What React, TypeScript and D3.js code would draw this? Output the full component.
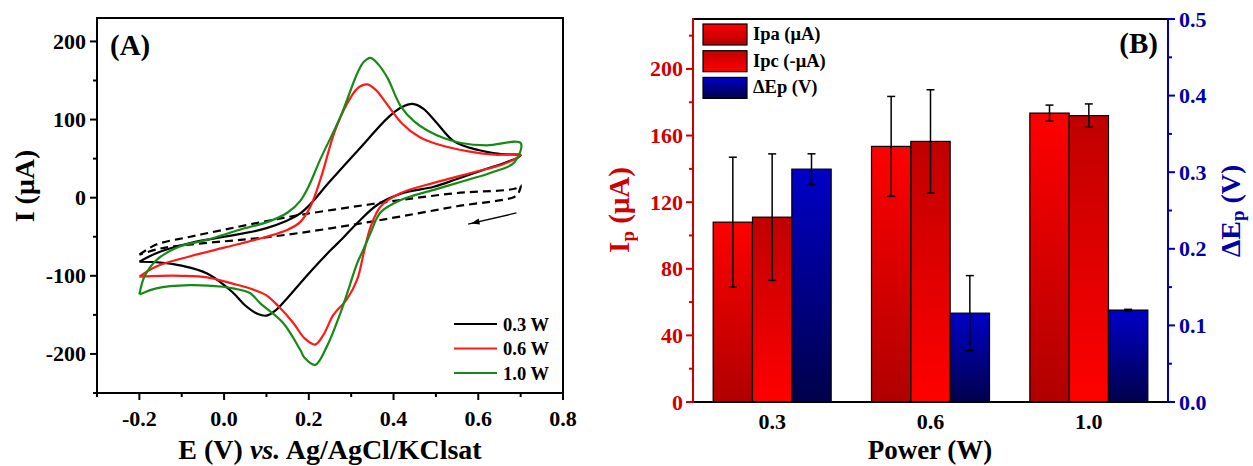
import React from 'react';
import * as d3 from 'd3';

const W = 1253;
const H = 466;
const FONT = '"Liberation Serif","Times New Roman",serif';

// ---------- Panel A data: cyclic voltammograms (E in V, I in µA) ----------
const cv03: [number, number][] = [
  [-0.2, -82], [-0.16, -71], [-0.08, -58], [0.0, -50], [0.1, -39], [0.18, -20], [0.25, 21],
  [0.32, 63], [0.39, 104], [0.42, 116], [0.445, 120], [0.47, 114], [0.5, 97], [0.543, 72],
  [0.6, 61], [0.65, 56], [0.7, 54],
  [0.66, 44], [0.62, 37], [0.55, 24], [0.495, 14], [0.417, 5], [0.362, -9], [0.315, -32],
  [0.28, -52], [0.25, -68], [0.2, -97], [0.15, -128], [0.12, -145], [0.1, -151], [0.08, -149],
  [0.05, -138], [0.02, -121], [-0.04, -97], [-0.1, -87], [-0.15, -83], [-0.2, -82],
];
const cv06: [number, number][] = [
  [-0.2, -101], [-0.16, -88], [-0.08, -75], [0.0, -64], [0.1, -50], [0.15, -41], [0.18, -31],
  [0.205, -10], [0.23, 28], [0.26, 83], [0.29, 120], [0.315, 140], [0.338, 145], [0.36, 137],
  [0.38, 123], [0.42, 95], [0.46, 78], [0.5, 69], [0.58, 59], [0.64, 55], [0.7, 55],
  [0.66, 43], [0.614, 36], [0.55, 27], [0.495, 19], [0.417, 6], [0.37, -11], [0.346, -37],
  [0.33, -70], [0.314, -105], [0.29, -130], [0.258, -150], [0.235, -175], [0.215, -188],
  [0.19, -180], [0.163, -160], [0.13, -140], [0.1, -125], [0.06, -116], [0.02, -110],
  [-0.04, -102], [-0.1, -100], [-0.15, -100], [-0.2, -101],
];
const cv10: [number, number][] = [
  [-0.2, -124], [-0.188, -101], [-0.16, -80], [-0.112, -64], [-0.041, -54], [0.037, -41],
  [0.108, -30], [0.15, -19], [0.18, -4], [0.2, 15], [0.227, 49], [0.275, 104], [0.315, 160],
  [0.33, 174], [0.346, 179], [0.365, 170], [0.386, 153], [0.417, 117], [0.45, 97], [0.48, 86],
  [0.52, 76], [0.559, 70], [0.62, 67], [0.7, 70],
  [0.685, 45], [0.63, 32], [0.576, 23], [0.495, 10], [0.417, -3], [0.369, -19], [0.346, -45],
  [0.33, -65], [0.314, -84], [0.295, -115], [0.275, -147], [0.243, -190], [0.215, -214],
  [0.19, -205], [0.18, -195], [0.139, -160], [0.085, -135], [0.061, -122], [0.021, -116],
  [-0.003, -114], [-0.081, -112], [-0.16, -116], [-0.2, -124],
];
const blank: [number, number][] = [
  [-0.2, -73], [-0.16, -60], [-0.08, -50], [0.0, -41], [0.09, -31], [0.18, -22], [0.3, -12],
  [0.417, -3], [0.55, 6], [0.69, 12], [0.7, 16],
  [0.695, 6], [0.685, 1], [0.55, -11], [0.417, -24], [0.3, -35], [0.18, -45], [0.077, -52],
  [-0.003, -56], [-0.081, -60], [-0.15, -65], [-0.2, -73],
];
const arrowPts: [number, number][] = [[0.69, -19.5], [0.583, -33]];

const cvLabels = ['0.3 W', '0.6 W', '1.0 W'];
const cvColors = ['#000000', '#ff1a1a', '#168a16'];
const cvData = [cv03, cv06, cv10];

const xTicksA = [-0.2, 0, 0.2, 0.4, 0.6, 0.8];
const xMinorA = [-0.3, -0.1, 0.1, 0.3, 0.5, 0.7];
const yTicksA = [-200, -100, 0, 100, 200];
const yMinorA = [-250, -150, -50, 50, 150];

// ---------- Panel B data ----------
const powers = ['0.3', '0.6', '1.0'];
const ipa = [108, 153.5, 173.5];
const ipaErr = [39, 30, 4.8];
const ipc = [111, 156.5, 172];
const ipcErr = [38, 31, 7];
const dEp = [0.304, 0.116, 0.12];
const dEpErr = [0.02, 0.049, 0.001];
const yTicksBL = [0, 40, 80, 120, 160, 200];
const yMinorBL = [20, 60, 100, 140, 180, 220];
const yTicksBR = [0, 0.1, 0.2, 0.3, 0.4, 0.5];
const yMinorBR = [0.05, 0.15, 0.25, 0.35, 0.45];

const RED_AX = '#d00000';
const BLUE_AX = '#0000a8';

function PanelA() {
  const x = d3.scaleLinear([-0.3, 0.8], [97, 563]);
  const y = d3.scaleLinear([-250, 230], [393, 18]);
  const line = d3
    .line<[number, number]>()
    .x((d) => x(d[0]))
    .y((d) => y(d[1]))
    .curve(d3.curveCatmullRom.alpha(0.5));
  const [x0, x1] = x.range();
  const [yb, yt] = y.range();
  const ax1 = x(arrowPts[0][0]), ay1 = y(arrowPts[0][1]);
  const ax2 = x(arrowPts[1][0]), ay2 = y(arrowPts[1][1]);
  const ang = Math.atan2(ay2 - ay1, ax2 - ax1);
  const ah = 9;
  const headP = [
    [ax2, ay2],
    [ax2 - ah * Math.cos(ang - 0.35), ay2 - ah * Math.sin(ang - 0.35)],
    [ax2 - ah * Math.cos(ang + 0.35), ay2 - ah * Math.sin(ang + 0.35)],
  ];
  return (
    <g>
      <path d={line(blank) || ''} fill="none" stroke="#000" strokeWidth={2.2} strokeDasharray="8,5" />
      {cvData.map((d, i) => (
        <path key={i} d={line(d) || ''} fill="none" stroke={cvColors[i]} strokeWidth={2.2} />
      ))}
      <line x1={ax1} y1={ay1} x2={ax2 + 3 * Math.cos(ang)} y2={ay2 + 3 * Math.sin(ang)} stroke="#000" strokeWidth={1.4} />
      <polygon points={headP.map((p) => p.join(',')).join(' ')} fill="#000" />
      <rect x={x0} y={yt} width={x1 - x0} height={yb - yt} fill="none" stroke="#000" strokeWidth={2} />
      {xTicksA.map((t) => (
        <g key={'xt' + t}>
          <line x1={x(t)} x2={x(t)} y1={yb} y2={yb + 7} stroke="#000" strokeWidth={2} />
          <text x={x(t)} y={yb + 33} textAnchor="middle" fontSize={22} fontWeight="bold">
            {t.toFixed(1)}
          </text>
        </g>
      ))}
      {xMinorA.map((t) => (
        <line key={'xm' + t} x1={x(t)} x2={x(t)} y1={yb} y2={yb + 4} stroke="#000" strokeWidth={2} />
      ))}
      {yTicksA.map((t) => (
        <g key={'yt' + t}>
          <line x1={x0 - 7} x2={x0} y1={y(t)} y2={y(t)} stroke="#000" strokeWidth={2} />
          <text x={x0 - 11} y={y(t) + 7.5} textAnchor="end" fontSize={22} fontWeight="bold">
            {t}
          </text>
        </g>
      ))}
      {yMinorA.map((t) => (
        <line key={'ym' + t} x1={x0 - 4} x2={x0} y1={y(t)} y2={y(t)} stroke="#000" strokeWidth={2} />
      ))}
      <text x={110} y={55} fontSize={29} fontWeight="bold">(A)</text>
      <text transform="translate(34,186) rotate(-90)" textAnchor="middle" fontSize={28} fontWeight="bold">
        I (μA)
      </text>
      <text x={330} y={459} textAnchor="middle" fontSize={28} fontWeight="bold">
        E (V) <tspan fontStyle="italic">vs.</tspan> Ag/AgCl/KClsat
      </text>
      {cvLabels.map((l, i) => {
        const ly = 324 + i * 24.5;
        return (
          <g key={l}>
            <line x1={454} x2={497} y1={ly} y2={ly} stroke={cvColors[i]} strokeWidth={2.2} />
            <text x={503} y={ly + 6.5} fontSize={18.5} fontWeight="bold">{l}</text>
          </g>
        );
      })}
    </g>
  );
}

function PanelB() {
  const yL = d3.scaleLinear([0, 230], [402, 19]);
  const yR = d3.scaleLinear([0, 0.5], [402, 19]);
  const xB = d3.scaleBand(powers, [693, 1168]).padding(0);
  const series = ['ipa', 'ipc', 'dep'];
  const inner = d3.scaleBand(series, [0, 118]).padding(0);
  const [xl, xr] = xB.range();
  const yb = 402, yt = 19;
  const fills = ['url(#gIpa)', 'url(#gIpc)', 'url(#gDep)'];
  const bars: { x: number; w: number; top: number; lo: number; hi: number; fill: string; key: string }[] = [];
  powers.forEach((p, i) => {
    const off = (xB(p) as number) + xB.bandwidth() / 2 - 59;
    const vals = [
      { v: ipa[i], e: ipaErr[i], s: yL },
      { v: ipc[i], e: ipcErr[i], s: yL },
      { v: dEp[i], e: dEpErr[i], s: yR },
    ];
    vals.forEach((o, j) => {
      bars.push({
        key: p + series[j],
        x: off + (inner(series[j]) as number),
        w: inner.bandwidth(),
        top: o.s(o.v),
        lo: o.s(o.v - o.e),
        hi: o.s(o.v + o.e),
        fill: fills[j],
      });
    });
  });
  const legend = [
    { label: 'Ipa (μA)', fill: fills[0] },
    { label: 'Ipc (-μA)', fill: fills[1] },
    { label: 'ΔEp (V)', fill: fills[2] },
  ];
  return (
    <g>
      <defs>
        <linearGradient id="gIpa" x1="0" y1="0" x2="0" y2="1">
          <stop offset="0" stopColor="#ff0000" />
          <stop offset="1" stopColor="#b00000" />
        </linearGradient>
        <linearGradient id="gIpc" x1="0" y1="0" x2="0" y2="1">
          <stop offset="0" stopColor="#c00000" />
          <stop offset="1" stopColor="#ff0000" />
        </linearGradient>
        <linearGradient id="gDep" x1="0" y1="0" x2="0" y2="1">
          <stop offset="0" stopColor="#0000c8" />
          <stop offset="1" stopColor="#00004a" />
        </linearGradient>
      </defs>
      {bars.map((b) => (
        <rect key={b.key} x={b.x} y={b.top} width={b.w} height={yb - b.top} fill={b.fill} stroke="#000" strokeWidth={1.2} />
      ))}
      {bars.map((b) => {
        const cx = b.x + b.w / 2;
        return (
          <g key={'e' + b.key} stroke="#000" strokeWidth={1.5}>
            <line x1={cx} x2={cx} y1={b.lo} y2={b.hi} />
            <line x1={cx - 4} x2={cx + 4} y1={b.lo} y2={b.lo} />
            <line x1={cx - 4} x2={cx + 4} y1={b.hi} y2={b.hi} />
          </g>
        );
      })}
      <line x1={xl} x2={xr} y1={yt} y2={yt} stroke="#000" strokeWidth={2} />
      <line x1={xl} x2={xr} y1={yb} y2={yb} stroke="#000" strokeWidth={2} />
      <line x1={xl} x2={xl} y1={yt - 1} y2={yb + 1} stroke={RED_AX} strokeWidth={2} />
      <line x1={xr} x2={xr} y1={yt - 1} y2={yb + 1} stroke={BLUE_AX} strokeWidth={2} />
      {yTicksBL.map((t) => (
        <g key={'l' + t}>
          <line x1={xl - 7} x2={xl} y1={yL(t)} y2={yL(t)} stroke={RED_AX} strokeWidth={2} />
          <text x={xl - 10} y={yL(t) + 7.5} textAnchor="end" fontSize={22} fontWeight="bold" fill={RED_AX}>
            {t}
          </text>
        </g>
      ))}
      {yMinorBL.map((t) => (
        <line key={'lm' + t} x1={xl - 4} x2={xl} y1={yL(t)} y2={yL(t)} stroke={RED_AX} strokeWidth={2} />
      ))}
      {yTicksBR.map((t) => (
        <g key={'r' + t}>
          <line x1={xr} x2={xr + 7} y1={yR(t)} y2={yR(t)} stroke={BLUE_AX} strokeWidth={2} />
          <text x={xr + 11} y={yR(t) + 7.5} fontSize={22} fontWeight="bold" fill={BLUE_AX}>
            {t.toFixed(1)}
          </text>
        </g>
      ))}
      {yMinorBR.map((t) => (
        <line key={'rm' + t} x1={xr} x2={xr + 4} y1={yR(t)} y2={yR(t)} stroke={BLUE_AX} strokeWidth={2} />
      ))}
      {powers.map((p) => (
        <text key={'xb' + p} x={(xB(p) as number) + xB.bandwidth() / 2} y={429} textAnchor="middle" fontSize={22} fontWeight="bold">
          {p}
        </text>
      ))}
      <text x={930} y={459} textAnchor="middle" fontSize={27} fontWeight="bold">Power (W)</text>
      <text transform="translate(629,210) rotate(-90)" textAnchor="middle" fontSize={29} fontWeight="bold" fill={RED_AX}>
        I<tspan fontSize={19} dy={5}>p</tspan>
        <tspan dy={-5}> (μA)</tspan>
      </text>
      <text transform="translate(1240,211) rotate(-90)" textAnchor="middle" fontSize={28} fontWeight="bold" fill={BLUE_AX}>
        ΔE<tspan fontSize={19} dy={4}>p</tspan>
        <tspan dy={-4}> (V)</tspan>
      </text>
      <text x={1158} y={53} textAnchor="end" fontSize={29} fontWeight="bold">(B)</text>
      {legend.map((l, i) => {
        const ly = 24 + i * 26.7;
        return (
          <g key={l.label}>
            <rect x={703} y={ly} width={44} height={21} fill={l.fill} stroke="#000" strokeWidth={1.2} />
            <text x={753} y={ly + 16} fontSize={18.5} fontWeight="bold">{l.label}</text>
          </g>
        );
      })}
    </g>
  );
}

export default function App() {
  return (
    <svg
      width={W}
      height={H}
      viewBox={`0 0 ${W} ${H}`}
      style={{ position: 'absolute', left: 0, top: 0, background: '#fff' }}
      fontFamily={FONT}
    >
      <rect x={0} y={0} width={W} height={H} fill="#fff" />
      <PanelA />
      <PanelB />
    </svg>
  );
}
